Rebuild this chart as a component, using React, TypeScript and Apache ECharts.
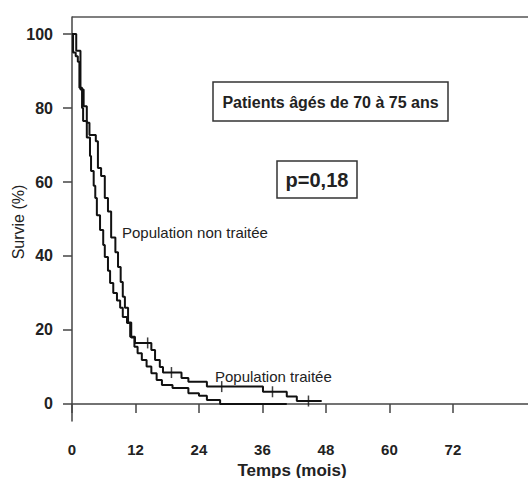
import { useEffect, useRef } from "react";
import * as echarts from "echarts";

// Population traitée (Kaplan-Meier steps: time in months, survival %)
const treatedT = [0, 0.2, 0.7, 1.1, 1.4, 1.9, 2.1, 2.8, 3.4, 3.6, 4.1, 4.4, 4.7, 5.3, 5.9, 6.2, 6.8, 7.2, 7.8, 8.5, 9.1, 9.6, 10.4, 11.0, 11.9, 15.0, 15.7, 16.6, 17.2, 20.7, 22.0, 25.5, 36.1, 40.6, 42.5, 47.2];
const treatedS = [100, 95, 94, 92.5, 85.5, 80, 76.5, 72, 67, 63, 59, 55.7, 51, 47, 43, 39.7, 36, 32.7, 30, 28, 26, 23.5, 21.9, 18.2, 16.5, 14.6, 11.9, 10, 8.5, 7, 6, 4.7, 3.3, 2.0, 0.8, 0.8];
const censorT = [14.3, 18.8, 28.3, 37.9, 44.7];
const censorS = [16.5, 8.5, 4.7, 3.3, 0.8];

// Population non traitée
const untreatedT = [0, 0.8, 1.6, 2.2, 2.8, 3.3, 4.5, 4.9, 5.5, 6.2, 6.8, 7.4, 8.2, 8.7, 9.2, 9.6, 10.0, 10.6, 11.2, 11.8, 12.4, 13.2, 14.1, 15.0, 16.0, 17.0, 19.0, 22.0, 24.0, 25.5, 28.0, 40.6];
const untreatedS = [100, 95.5, 85, 80.5, 76, 72.7, 71, 63.8, 61.6, 55.7, 52, 45, 41, 37, 33, 29, 26, 22, 18, 15.5, 13.7, 11.9, 10.1, 8.3, 6.5, 5.1, 4.3, 2.9, 2.2, 1.1, 0, 0];

const xTicks = [0, 12, 24, 36, 48, 60, 72];
const yTicks = [0, 20, 40, 60, 80, 100];

const FONT = "Liberation Sans, Arial, sans-serif";

export default function App() {
  const ref = useRef<HTMLDivElement>(null);
  useEffect(() => {
    const chart = echarts.init(ref.current!, null, { renderer: "svg" });
    const zip = (a: number[], b: number[]) => a.map((v, i) => [v, b[i]]);
    chart.setOption({
      animation: false,
      backgroundColor: "#fff",
      grid: { left: 72, top: 17, right: 0, bottom: 57 },
      xAxis: {
        type: "value",
        min: 0,
        max: 86.2,
        axisLine: { show: true, lineStyle: { color: "#444", width: 1.5 } },
        axisTick: { show: true, length: 9, customValues: xTicks, lineStyle: { color: "#444", width: 1.5 } },
        axisLabel: { customValues: xTicks, margin: 21, fontSize: 15, fontWeight: "bold", color: "#222", fontFamily: FONT },
        splitLine: { show: false },
      },
      yAxis: {
        type: "value",
        min: -4.6,
        max: 104.6,
        axisLine: { show: true, lineStyle: { color: "#444", width: 1.5 } },
        axisTick: { show: true, length: 9, customValues: yTicks, lineStyle: { color: "#444", width: 1.5 } },
        axisLabel: { customValues: yTicks, margin: 19, fontSize: 16, fontWeight: "bold", color: "#222", fontFamily: FONT },
        splitLine: { show: false },
      },
      graphic: [
        { type: "line", shape: { x1: 72, y1: 17, x2: 528, y2: 17 }, style: { stroke: "#555", lineWidth: 1.5 } },
        { type: "rect", shape: { x: 213, y: 82, width: 235, height: 39 }, style: { fill: "#fff", stroke: "#333", lineWidth: 1.5 } },
        { type: "text", x: 330.5, y: 102, style: { text: "Patients âgés de 70 à 75 ans", font: `bold 16px ${FONT}`, fill: "#222", textAlign: "center", textVerticalAlign: "middle" } },
        { type: "rect", shape: { x: 277, y: 161, width: 80, height: 37 }, style: { fill: "#fff", stroke: "#333", lineWidth: 1.5 } },
        { type: "text", x: 317, y: 180, style: { text: "p=0,18", font: `bold 20px ${FONT}`, fill: "#222", textAlign: "center", textVerticalAlign: "middle" } },
        { type: "text", x: 122, y: 232, style: { text: "Population non traitée", font: `15px ${FONT}`, fill: "#222", textAlign: "left", textVerticalAlign: "middle" } },
        { type: "text", x: 215, y: 376, style: { text: "Population traitée", font: `15px ${FONT}`, fill: "#222", textAlign: "left", textVerticalAlign: "middle" } },
        { type: "text", x: 292, y: 470, style: { text: "Temps (mois)", font: `bold 17px ${FONT}`, fill: "#222", textAlign: "center", textVerticalAlign: "middle" } },
        { type: "text", x: 18, y: 222, rotation: Math.PI / 2, style: { text: "Survie (%)", font: `16px ${FONT}`, fill: "#222", textAlign: "center", textVerticalAlign: "middle" } },
      ],
      series: [
        {
          type: "line",
          step: "end",
          data: zip(untreatedT, untreatedS),
          showSymbol: false,
          lineStyle: { color: "#111", width: 2 },
        },
        {
          type: "line",
          step: "end",
          data: zip(treatedT, treatedS),
          showSymbol: false,
          lineStyle: { color: "#111", width: 2 },
        },
        {
          type: "scatter",
          data: zip(censorT, censorS),
          symbol: "rect",
          symbolSize: [1.5, 11],
          itemStyle: { color: "#111" },
        },
      ],
    });
    return () => chart.dispose();
  }, []);
  return (
    <div
      ref={ref}
      style={{ position: "fixed", left: 0, top: 0, width: 528, height: 478, background: "#fff" }}
    />
  );
}
